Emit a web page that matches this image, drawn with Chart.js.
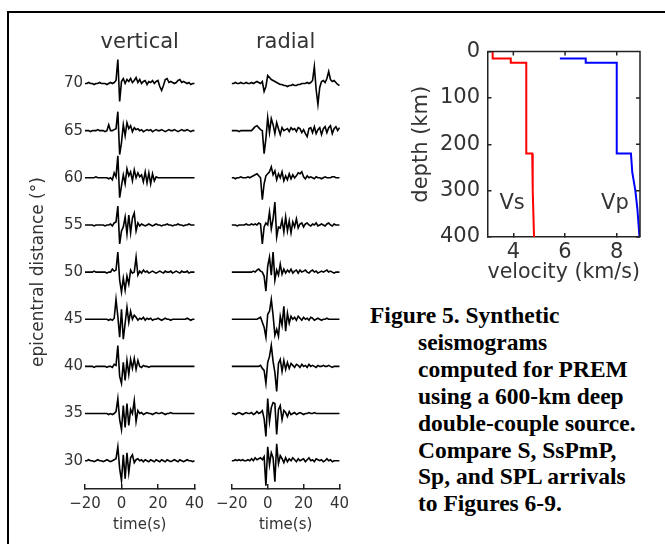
<!DOCTYPE html>
<html>
<head>
<meta charset="utf-8">
<script src="https://cdn.jsdelivr.net/npm/chart.js@4.4.1/dist/chart.umd.min.js"></script>
<style>
  html, body { margin: 0; padding: 0; background: #fff; }
  body { width: 665px; height: 544px; position: relative; overflow: hidden; }
  .frame { position: absolute; left: 7px; top: 11px; width: 700px; height: 600px;
           border-top: 2px solid #000; border-left: 2px solid #000; }
  .panel { position: absolute; }
  #caption { position: absolute; left: 370px; top: 302px; color: #000; white-space: nowrap;
             font: bold 23.5px "Liberation Serif", "Times New Roman", serif; line-height: 26.9px; }
  #caption .in { padding-left: 48px; }
</style>
</head>
<body>
<div class="frame"></div>
<div class="panel" style="left:0;top:0;width:215px;height:544px;"><canvas id="vertical"></canvas></div>
<div class="panel" style="left:205px;top:0;width:155px;height:544px;"><canvas id="radial"></canvas></div>
<div class="panel" style="left:390px;top:20px;width:265px;height:275px;"><canvas id="profile"></canvas></div>
<div id="caption">
  <div>Figure 5. Synthetic</div>
  <div class="in">seismograms</div>
  <div class="in">computed for PREM</div>
  <div class="in">using a 600-km deep</div>
  <div class="in">double-couple source.</div>
  <div class="in">Compare S, SsPmP,</div>
  <div class="in">Sp, and SPL arrivals</div>
  <div class="in">to Figures 6-9.</div>
</div>
<script>
// sample times (s), one per second
const TIMES = [-20,-19,-18,-17,-16,-15,-14,-13,-12,-11,
               -10,-9,-8,-7,-6,-5,-4,-3,-2,-1,
               0,1,2,3,4,5,6,7,8,9,
               10,11,12,13,14,15,16,17,18,19,
               20,21,22,23,24,25,26,27,28,29,
               30,31,32,33,34,35,36,37,38,39,
               40];
const DISTANCES = [70, 65, 60, 55, 50, 45, 40, 35, 30];
const TIME_TICKS = [-20, 0, 20, 40];

// vertical component traces (arbitrary amplitude units)
const VERT_70 = [0,0,1,0,0,-1,0,0,1,0, 0,0,-1,0,1,0,1,3,24,-18, 2,5,0,4,2,5,1,3,6,1, 4,0,2,3,-1,2,1,3,0,2, 3,-3,-7,-2,4,5,1,2,1,0, 1,3,4,1,2,1,0,1,-1,0, 0];
const VERT_65 = [0,0,0,-1,0,0,0,1,0,0, 0,-1,0,6,0,0,1,2,19,-24, -12,6,-5,8,2,5,-1,3,1,2, 0,1,-1,0,1,0,1,-1,0,1, 0,0,1,0,-1,0,1,0,0,1, 0,-1,0,1,0,0,1,0,-1,0, 0];
const VERT_60 = [0,0,0,0,0,0,1,0,0,0, 0,0,0,-1,0,-2,5,1,22,-20, -8,3,-6,9,2,6,-3,8,0,5, 1,3,-4,6,-5,5,-6,4,-3,1, 0,0,0,0,0,0,0,0,0,0, 0,0,0,0,0,0,0,0,0,0, 0];
const VERT_55 = [0,0,0,0,0,-1,0,0,0,0, 0,-1,0,0,1,-1,2,3,19,-19, -6,-2,8,-9,10,-8,7,12,-6,2, -1,1,0,-1,0,1,0,-1,0,1, 0,0,-1,0,0,1,0,0,-1,0, 0,1,0,0,-1,0,0,1,0,0, 0];
const VERT_50 = [0,0,0,0,0,1,0,0,0,0, 0,0,-1,0,0,3,1,2,20,-8, -20,-6,-18,-4,-12,2,-1,0,15,-3, 1,-1,2,0,1,-1,0,1,0,-1, 0,1,0,-1,1,0,0,1,-1,0, 1,0,-1,1,0,0,1,-1,0,0, 0];
const VERT_45 = [0,0,0,0,0,0,0,0,0,0, 0,0,0,-1,0,-1,1,20,3,-18, 10,-20,-4,12,-3,8,0,4,2,-1, 1,0,2,-1,1,0,1,-1,0,0, 1,0,-1,0,1,0,0,-1,0,0, 0,0,0,0,0,0,1,0,-1,0, 0];
const VERT_40 = [0,0,0,0,0,-1,0,0,0,0, 0,0,-1,0,0,-1,2,1,21,-10, -17,4,-14,6,-8,7,-2,8,-3,6, 0,-1,1,0,0,-1,0,0,0,0, 0,0,0,0,0,0,0,0,0,0, 0,0,0,0,0,0,0,0,0,0, 0];
const VERT_35 = [0,0,0,0,0,0,0,0,0,0, 0,0,0,-1,0,-1,0,2,15,-6, -16,8,-14,10,-12,4,0,13,-8,3, 0,1,-1,0,1,0,0,-1,0,1, 0,0,1,0,-1,0,0,1,0,0, 0,0,0,0,0,0,0,0,0,0, 0];
const VERT_30 = [0,0,1,0,0,-1,0,1,0,0, -1,0,1,0,-1,0,1,2,14,-8, -20,6,-18,8,-12,3,6,-2,1,2, 0,1,-1,1,0,-1,1,0,-1,1, 0,-1,1,0,-1,1,0,-1,0,1, 0,-1,1,0,-1,0,1,0,0,-1, 0];

// radial component traces
const RAD_70 = [0,0,1,0,0,1,0,0,1,0, 0,1,0,1,2,1,0,2,-8,-3, 8,6,4,3,2,1,0,-1,-1,-2, -2,-3,-2,-2,-1,-2,-2,-1,-1,0, 0,0,1,0,1,3,17,-6,-21,-4, 2,3,1,5,12,4,2,3,1,-1, -2];
const RAD_65 = [0,0,0,0,-1,0,0,0,0,0, 0,0,2,4,5,3,1,0,-23,-8, 13,-2,12,6,-3,8,2,-4,3,0, 1,2,-1,3,1,2,-1,3,2,-2, 1,-3,-6,2,3,-2,4,-3,1,3, -4,2,4,-2,3,5,-3,2,4,0, 3];
const RAD_60 = [0,0,-1,0,0,1,0,0,0,1, 0,1,2,3,4,2,0,-22,-6,2, 4,6,11,3,7,-2,4,0,6,-3, 2,-2,4,-1,3,0,2,5,4,6, 1,-1,2,0,1,0,-1,1,0,0, -1,0,1,0,0,0,1,1,0,0, 0];
const RAD_55 = [0,0,0,-1,0,0,0,0,1,0, 0,1,0,1,0,2,1,-19,-2,2, 0,13,-4,6,23,-12,-2,-3,5,-7, 8,-6,4,-8,3,-2,6,-3,1,2, -2,1,2,0,-1,1,0,2,-1,0, 1,0,-1,1,2,0,-1,1,0,0, 0];
const RAD_50 = [0,0,0,0,0,0,0,0,0,0, 0,0,1,0,2,3,1,0,-4,-19, 6,15,-3,20,-8,2,-3,8,-2,3, -1,2,0,3,-1,1,2,-1,2,0, 1,2,0,-1,1,2,0,1,-1,0, 1,0,1,2,0,1,0,-1,0,0, 0];
const RAD_45 = [0,0,0,0,0,0,0,0,0,0, 0,0,0,0,0,1,2,-3,-8,-18, 5,8,20,4,-16,-10,-17,3,-6,13, -12,6,-4,3,0,2,-1,3,1,-1, 2,0,1,-1,2,1,-1,0,1,0, -1,0,0,1,0,0,0,0,0,0, 0];
const RAD_40 = [0,0,0,0,0,0,0,0,0,0, 0,0,0,0,0,0,1,-2,-4,-17, 4,10,21,5,-6,-25,3,7,-5,6, -3,4,-2,3,1,-1,2,1,-1,2, 0,1,-1,2,0,1,0,-1,1,0, 0,1,0,0,1,0,-1,0,0,0, 0];
const RAD_35 = [0,0,-1,0,1,0,-1,0,1,0, 0,1,-1,0,2,0,1,3,-5,-23, 15,-8,6,11,10,-21,4,8,-6,3, 1,-3,2,-1,0,1,-1,0,1,0, -1,0,0,1,0,0,1,0,0,0, 0,0,0,0,0,0,0,0,0,0, 0];
const RAD_30 = [0,0,1,0,1,0,1,0,0,1, 0,2,0,3,1,2,3,1,4,-25, 14,-4,8,3,-21,17,-3,5,2,-2, 3,-1,2,0,3,1,-1,2,0,1, 2,-1,1,3,0,1,-1,2,1,0, 1,-1,0,2,0,1,-1,0,0,0, 0];

const VERTICAL = [VERT_70, VERT_65, VERT_60, VERT_55, VERT_50, VERT_45, VERT_40, VERT_35, VERT_30];
const RADIAL = [RAD_70, RAD_65, RAD_60, RAD_55, RAD_50, RAD_45, RAD_40, RAD_35, RAD_30];
const AMP = 0.1057; // degrees of distance per amplitude unit

// PREM upper mantle profile
const VS_VEL   = [3.2, 3.2, 3.9, 3.9, 4.5, 4.5, 4.73, 4.75, 4.78, 4.8];
const VS_DEPTH = [0, 15, 15, 24, 24, 220, 220, 300, 360, 400];
const VP_VEL   = [5.8, 6.8, 6.8, 8.0, 8.0, 8.55, 8.6, 8.72, 8.8, 8.88];
const VP_DEPTH = [15, 15, 24, 24, 220, 220, 260, 300, 340, 400];
const VEL_TICKS = [4, 6, 8];
const DEPTH_TICKS = [0, 100, 200, 300, 400];
const PROFILE_LABELS = [{text: 'Vs', v: 3.95, depth: 327}, {text: 'Vp', v: 7.93, depth: 327}];

const INK = '#222';
const TXT = '#333';
const SANS = '"DejaVu Sans", "Liberation Sans", sans-serif';

function traceData(amps, dist) {
  return TIMES.map((t, i) => ({x: t, y: dist + amps[i] * AMP}));
}

function seisChart(id, traces, title, showY, padLeft, padRight) {
  const yAxis = {
    type: 'linear', min: 27, max: 73, display: showY,
    afterBuildTicks: s => { s.ticks = DISTANCES.map(v => ({value: v})); },
    border: {display: false},
    grid: {display: false, drawTicks: false},
    ticks: {font: {family: SANS, size: 15}, color: TXT, padding: 2},
    title: {display: true, text: 'epicentral distance (\u00b0)', font: {family: SANS, size: 17}, color: TXT,
            padding: {top: 4, bottom: 0}}
  };
  if (showY) yAxis.afterFit = s => { s.width = 85 - padLeft; };

  return new Chart(document.getElementById(id), {
    type: 'scatter',
    data: {
      datasets: traces.map((a, k) => ({
        data: traceData(a, DISTANCES[k]),
        showLine: true, borderColor: '#000', borderWidth: 1.6,
        pointRadius: 0, tension: 0, clip: false
      }))
    },
    options: {
      responsive: true,
      maintainAspectRatio: false,
      animation: false,
      layout: {padding: {left: padLeft, right: padRight, top: 30, bottom: 0}},
      plugins: {
        legend: {display: false},
        tooltip: {enabled: false},
        title: {display: true, text: title, fullSize: false, color: TXT,
                font: {family: SANS, size: 21, weight: 'normal'}, padding: 0}
      },
      scales: {
        x: {
          type: 'linear', min: -20, max: 40,
          afterBuildTicks: s => { s.ticks = TIME_TICKS.map(v => ({value: v})); },
          afterFit: s => { s.height = 55; },
          border: {display: true, color: INK, width: 1.5},
          grid: {drawOnChartArea: false, drawTicks: true, tickLength: -5, color: INK, lineWidth: 1.5},
          ticks: {font: {family: SANS, size: 15}, color: TXT, padding: 11, maxRotation: 0, autoSkip: false,
                  callback: v => String(v).replace('-', '\u2212')},
          title: {display: true, text: 'time(s)', font: {family: SANS, size: 15}, color: TXT,
                  padding: {top: 0, bottom: 10}}
        },
        y: yAxis
      }
    }
  });
}

seisChart('vertical', VERTICAL, 'vertical', true, 24, 18.5);
seisChart('radial', RADIAL, 'radial', false, 26.7, 11.7);

// box with mirrored inward ticks and the Vs / Vp labels
const boxPlugin = {
  id: 'box',
  afterDraw(chart) {
    const {ctx, chartArea: a, scales: {x, y}} = chart;
    ctx.save();
    ctx.strokeStyle = INK;
    ctx.lineWidth = 1.5;
    ctx.beginPath();
    ctx.moveTo(a.left, a.top);
    ctx.lineTo(a.right, a.top);
    ctx.lineTo(a.right, a.bottom);
    x.ticks.forEach(t => { const px = x.getPixelForValue(t.value); ctx.moveTo(px, a.top); ctx.lineTo(px, a.top + 4); });
    y.ticks.forEach(t => { const py = y.getPixelForValue(t.value); ctx.moveTo(a.right, py); ctx.lineTo(a.right - 4, py); });
    ctx.stroke();
    ctx.fillStyle = TXT;
    ctx.font = '21px ' + SANS;
    ctx.textAlign = 'center';
    ctx.textBaseline = 'middle';
    PROFILE_LABELS.forEach(l => ctx.fillText(l.text, x.getPixelForValue(l.v), y.getPixelForValue(l.depth)));
    ctx.restore();
  }
};

new Chart(document.getElementById('profile'), {
  type: 'scatter',
  data: {
    datasets: [
      {data: VS_VEL.map((v, i) => ({x: v, y: VS_DEPTH[i]})), showLine: true,
       borderColor: '#ff0000', borderWidth: 2, pointRadius: 0, tension: 0},
      {data: VP_VEL.map((v, i) => ({x: v, y: VP_DEPTH[i]})), showLine: true,
       borderColor: '#0000ff', borderWidth: 2, pointRadius: 0, tension: 0}
    ]
  },
  options: {
    responsive: true,
    maintainAspectRatio: false,
    animation: false,
    layout: {padding: {left: 15, top: 31.5, right: 15, bottom: 0}},
    plugins: {legend: {display: false}, tooltip: {enabled: false}},
    scales: {
      x: {
        type: 'linear', min: 3, max: 8.9,
        afterBuildTicks: s => { s.ticks = VEL_TICKS.map(v => ({value: v})); },
        afterFit: s => { s.height = 58; },
        border: {display: true, color: INK, width: 1.5},
        grid: {drawOnChartArea: false, drawTicks: true, tickLength: -4, color: INK, lineWidth: 1.5},
        ticks: {font: {family: SANS, size: 21}, color: TXT, padding: 7.4, maxRotation: 0, autoSkip: false},
        title: {display: true, text: 'velocity (km/s)', font: {family: SANS, size: 21}, color: TXT,
                padding: {top: 0, bottom: 9.4}}
      },
      y: {
        type: 'linear', min: 0, max: 400, reverse: true,
        afterBuildTicks: s => { s.ticks = DEPTH_TICKS.map(v => ({value: v})); },
        afterFit: s => { s.width = 82.5; },
        border: {display: true, color: INK, width: 1.5},
        grid: {drawOnChartArea: false, drawTicks: true, tickLength: -4, color: INK, lineWidth: 1.5},
        ticks: {font: {family: SANS, size: 21}, color: TXT, padding: 11.5},
        title: {display: true, text: 'depth (km)', font: {family: SANS, size: 21}, color: TXT,
                padding: {top: 4.4, bottom: 0}}
      }
    }
  },
  plugins: [boxPlugin]
});
</script>
</body>
</html>
